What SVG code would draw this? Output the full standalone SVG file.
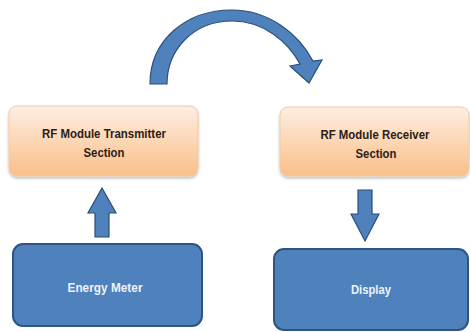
<svg xmlns="http://www.w3.org/2000/svg" width="470" height="332" viewBox="0 0 470 332">
  <defs>
    <linearGradient id="peach" x1="0" y1="0" x2="0" y2="1">
      <stop offset="0" stop-color="#fdeee2"/>
      <stop offset="0.55" stop-color="#fcd4b0"/>
      <stop offset="1" stop-color="#fabf8a"/>
    </linearGradient>
    <filter id="soft" x="-10%" y="-10%" width="120%" height="130%">
      <feGaussianBlur in="SourceAlpha" stdDeviation="1.5"/>
      <feOffset dy="2" result="b"/>
      <feComponentTransfer><feFuncA type="linear" slope="0.25"/></feComponentTransfer>
      <feMerge><feMergeNode/><feMergeNode in="SourceGraphic"/></feMerge>
    </filter>
    <style>
      .peach { fill: url(#peach); stroke: #f3c9a3; stroke-width: 1; filter: url(#soft); }
      .blue { fill: #4f81bd; stroke: #2d5583; stroke-width: 2; }
      .arrow { fill: #4f81bd; stroke: #2b4f7a; stroke-width: 1.2; stroke-linejoin: miter; }
      .lbl { font-family: "Liberation Sans", Arial, sans-serif; font-size: 13px; font-weight: bold; text-anchor: middle; }
      .dark { fill: #2b2118; }
      .light { fill: #eef3fa; }
    </style>
  </defs>
  <rect width="470" height="332" fill="#ffffff"/>

  <g id="connectors">
    <!-- curved link from transmitter to receiver -->
    <path class="arrow" d="M150,84 C150,40 186,10 232,10 C268,10 298,33 313,61 L322,60 L309,83 L290,66 L300,64 C288,42 264,21 232,21 C193,21 167,50 167,84 Z"/>
    <!-- energy meter up to transmitter -->
    <path class="arrow" d="M95,237 L95,213 L88,213 L102,188 L116,213 L109,213 L109,237 Z"/>
    <!-- receiver down to display -->
    <path class="arrow" d="M358,190 L372,190 L372,214 L379,214 L365,241 L351,214 L358,214 Z"/>
  </g>

  <g id="transmitter">
    <rect class="peach" x="9" y="106" width="189" height="70" rx="8"/>
    <text class="lbl dark" x="104" y="138" textLength="124" lengthAdjust="spacingAndGlyphs">RF Module Transmitter</text>
    <text class="lbl dark" x="104" y="157" textLength="41" lengthAdjust="spacingAndGlyphs">Section</text>
  </g>

  <g id="receiver">
    <rect class="peach" x="280" y="107" width="189" height="69" rx="8"/>
    <text class="lbl dark" x="375" y="139" textLength="109" lengthAdjust="spacingAndGlyphs">RF Module Receiver</text>
    <text class="lbl dark" x="376" y="158" textLength="41" lengthAdjust="spacingAndGlyphs">Section</text>
  </g>

  <g id="energy-meter">
    <rect class="blue" x="13" y="244" width="189" height="82" rx="10"/>
    <text class="lbl light" x="105" y="292" textLength="75" lengthAdjust="spacingAndGlyphs">Energy Meter</text>
  </g>

  <g id="display">
    <rect class="blue" x="274" y="249" width="194" height="81" rx="10"/>
    <text class="lbl light" x="371" y="294" textLength="40" lengthAdjust="spacingAndGlyphs">Display</text>
  </g>
</svg>
